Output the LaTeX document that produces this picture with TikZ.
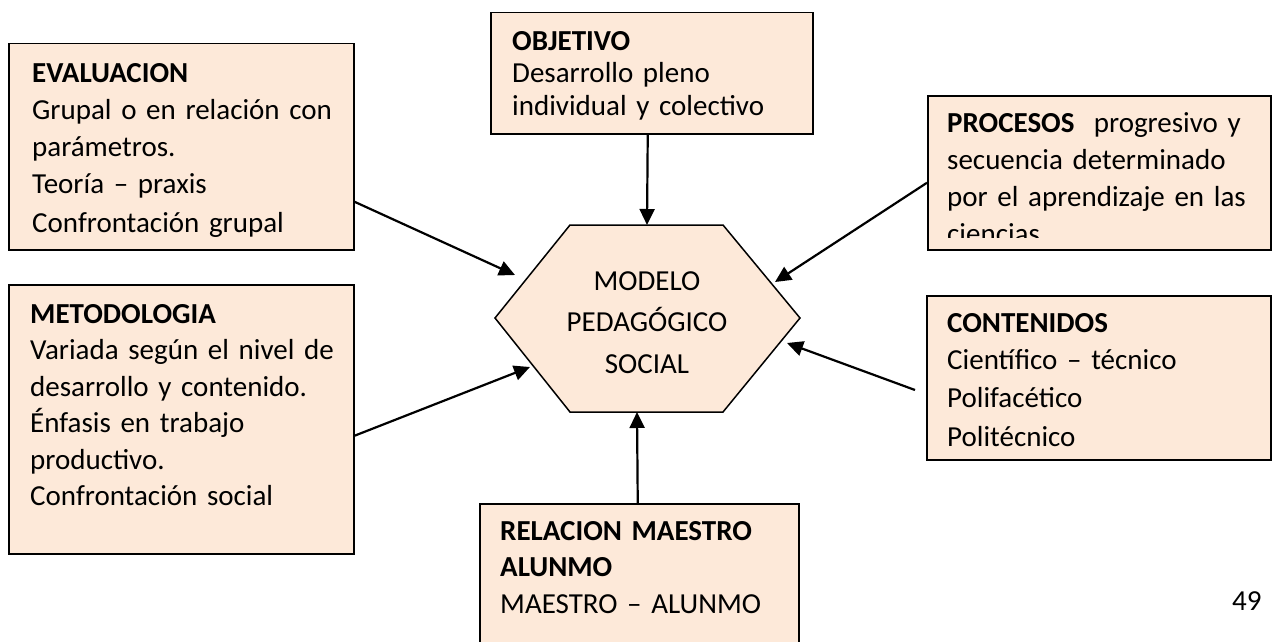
\documentclass[tikz,border=0pt]{standalone}
\usepackage{fontspec}
\setmainfont{Carlito}
\usetikzlibrary{arrows.meta}
\definecolor{cajafondo}{HTML}{FDE9D9}

\begin{document}
\begin{tikzpicture}[x=1pt, y=-1pt,
        caja/.style={draw, fill=cajafondo, line width=1.5pt, anchor=north west, inner sep=0pt},
        texto/.style={anchor=north west, inner sep=0pt, text width=335pt, align=left,
            font=\fontsize{29}{#1}\selectfont},
        texto/.default=37,
        flecha/.style={-{Triangle[length=16pt,width=15pt]}, line width=2.2pt}]
        \useasboundingbox (0,0) rectangle (1272,642);
        \clip (0,0) rectangle (1272,642);

        % cajas
        \node[caja, minimum width=322pt, minimum height=121pt] (objetivo) at (490,12) {};
        \node[caja, minimum width=345pt, minimum height=206pt] (evaluacion) at (8,43) {};
        \node[caja, minimum width=345pt, minimum height=269pt] (metodologia) at (8,284) {};
        \node[caja, minimum width=343pt, minimum height=154pt] (procesos) at (927,95) {};
        \node[caja, minimum width=344pt, minimum height=164pt] (contenidos) at (926,295) {};
        \node[caja, minimum width=319pt, minimum height=160pt] (relacion) at (479,503) {};

        % hexagono central
        \draw[fill=cajafondo, line width=1.5pt] (495,318) -- (570,225) -- (723,225)
            -- (800,318) -- (723,412) -- (570,412) -- cycle;
        \node[anchor=north, inner sep=0pt, text width=260pt, align=center,
            font=\fontsize{29}{41.5}\selectfont] (modelo) at (647,261)
            {\strut MODELO\\PEDAGÓGICO\\SOCIAL};

        \coordinate (p-obj) at (647,225);
        \coordinate (p-eval) at (515,275);
        \coordinate (p-met) at (530,367);
        \coordinate (p-proc) at (775,282);
        \coordinate (p-cont) at (787,343);
        \coordinate (p-rel) at (637,412);
        \coordinate (s-cont) at (915,390);

        % flechas
        \draw[flecha] ([xshift=-4pt]objetivo.south) -- (p-obj);
        \draw[flecha] ([yshift=-55pt]evaluacion.east) -- (p-eval);
        \draw[flecha] ([yshift=-16.5pt]metodologia.east) -- (p-met);
        \draw[flecha] ([yshift=-10pt]procesos.west) -- (p-proc);
        \draw[flecha] (s-cont) -- (p-cont);
        \draw[flecha] ([xshift=-1.5pt]relacion.north) -- (p-rel);

        % textos
        \begin{scope}
            \clip (490,12) rectangle (812,121);
            \node[texto=32.5] (t-obj) at (512,27.25)
                {\strut\textbf{OBJETIVO}\\Desarrollo pleno\\individual y colectivo};
        \end{scope}
        \node[texto] (t-eval) at (32,56.1)
            {\strut\textbf{EVALUACION}\\Grupal o en relación con\\parámetros.\\Teoría – praxis\\[2pt]Confrontación grupal};
        \node[texto=36.5] (t-met) at (30,297.5)
            {\strut\textbf{METODOLOGIA}\\Variada según el nivel de\\desarrollo y contenido.\\Énfasis en trabajo\\productivo.\\Confrontación social};
        \begin{scope}
            \clip (927,95) rectangle (1270,237);
            \node[texto] (t-proc) at (947,106.1)
                {\strut\textbf{PROCESOS}\ \ progresivo y\\secuencia determinado\\por el aprendizaje en las\\ciencias};
        \end{scope}
        \node[texto=37.5] (t-cont) at (947,305.75)
            {\strut\textbf{CONTENIDOS}\\Científico – técnico\\Polifacético\\[2pt]Politécnico};
        \node[texto=36.5] (t-rel) at (500,514.5)
            {\strut\textbf{RELACION MAESTRO}\\\textbf{ALUNMO}\\MAESTRO – ALUNMO};

        \node[anchor=base west, inner sep=0pt, font=\fontsize{29}{32}\selectfont] (pagina) at (1232,610) {49};
    \end{tikzpicture}
\end{document}
